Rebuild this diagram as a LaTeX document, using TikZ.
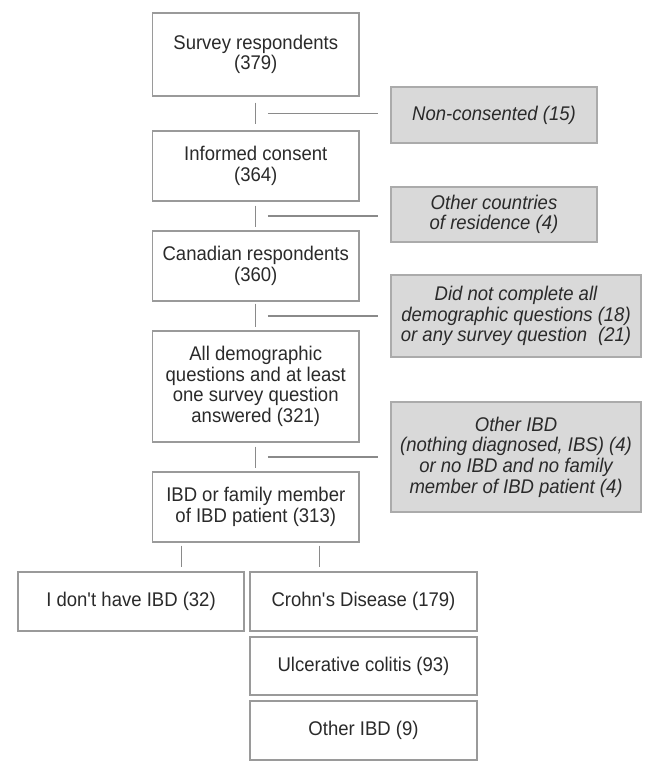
\documentclass[tikz,border=0pt]{standalone}
\usepackage{fontspec}
\setmainfont{Liberation Sans}[FakeStretch=0.935]
\usetikzlibrary{calc}
\definecolor{txt}{HTML}{2A2A2A}
\definecolor{edgec}{HTML}{9A9A9A}
\definecolor{greyfill}{HTML}{D9D9D9}
\definecolor{greyedge}{HTML}{ABABAB}
\definecolor{linec}{HTML}{8A8A8A}
\newcommand{\sq}{{\XeTeXglyph\XeTeXcharglyph"0027\relax}}
\begin{document}
\begin{tikzpicture}[x=1pt,y=-1pt,
  mainbox/.style={draw=edgec, line width=1.4pt, fill=white, text=txt, align=center, inner sep=0pt, font=\fontsize{19.8}{20.7}\selectfont},
  exclbox/.style={draw=greyedge, line width=1.2pt, fill=greyfill, text=txt, align=center, inner sep=0pt, font=\fontsize{19.8}{20.7}\selectfont\itshape},
  link/.style={draw=linec, line width=1.3pt}]
\useasboundingbox[fill=white] (0,0) rectangle (658,773);

% main column
\node[mainbox, minimum width=206.5pt, minimum height=83pt] (b1) at (255.75,54.5) {Survey respondents\\(379)};
\node[mainbox, minimum width=206.5pt, minimum height=70pt] (b2) at (255.75,166) {Informed consent\\(364)};
\node[mainbox, minimum width=206.5pt, minimum height=70pt] (b3) at (255.75,266) {Canadian respondents\\(360)};
\node[mainbox, minimum width=206.5pt, minimum height=111pt] (b4) at (255.75,386.5) {All demographic\\questions and at least\\one survey question\\answered (321)};
\node[mainbox, minimum width=206.5pt, minimum height=70pt] (b5) at (255.75,507) {IBD or family member\\of IBD patient (313)};

% exclusion boxes
\node[exclbox, minimum width=206pt, minimum height=56pt] (g1) at (494,115) {Non-consented (15)};
\node[exclbox, minimum width=206pt, minimum height=55pt] (g2) at (494,214.5) {Other countries\\of residence (4)};
\node[exclbox, minimum width=250pt, minimum height=82pt] (g3) at (516,316) {Did not complete all\\demographic questions (18)\\or any survey question\hspace{0.3em} (21)};
\node[exclbox, minimum width=250pt, minimum height=110pt] (g4) at (516,457) {Other IBD\\(nothing diagnosed, IBS) (4)\\or no IBD and no family\\member of IBD patient (4)};

% leaves
\node[mainbox, minimum width=226pt, minimum height=59pt] (nohave) at (131,601.5) {I don\sq t have IBD (32)};
\node[mainbox, minimum width=227pt, minimum height=59pt] (crohn) at (363.5,601.5) {Crohn\sq s Disease (179)};
\node[mainbox, minimum width=227pt, minimum height=58pt] (uc) at (363.5,666) {Ulcerative colitis (93)};
\node[mainbox, minimum width=227pt, minimum height=59pt] (oibd) at (363.5,730.5) {Other IBD (9)};

% vertical connectors
\draw[link, shorten <=6pt, shorten >=6pt] (b1.south) -- (b2.north);
\draw[link, shorten <=4pt, shorten >=3pt] (b2.south) -- (b3.north);
\draw[link, shorten <=2pt, shorten >=3pt] (b3.south) -- (b4.north);
\draw[link, shorten <=4pt, shorten >=3pt] (b4.south) -- (b5.north);

% horizontal exclusion connectors
\coordinate (m1) at ($(b1.south)!0.5!(b2.north)$);
\coordinate (m2) at ($(b2.south)!0.5!(b3.north)$);
\coordinate (m3) at ($(b3.south)!0.5!(b4.north)$);
\coordinate (m4) at ($(b4.south)!0.5!(b5.north)$);
\draw[link, shorten <=12pt, shorten >=12pt] (m1) -- (m1 -| g1.west);
\draw[link, shorten <=12pt, shorten >=12pt] (m2) -- (m2 -| g2.west);
\draw[link, shorten <=12pt, shorten >=12pt] (m3) -- (m3 -| g3.west);
\draw[link, shorten <=12pt, shorten >=12pt] (m4) -- (m4 -| g4.west);

% branches
\coordinate (bl) at ([xshift=-74pt]b5.south);
\coordinate (br) at ([xshift=64pt]b5.south);
\draw[link, shorten <=3pt, shorten >=4pt] (bl) -- (bl |- nohave.north);
\draw[link, shorten <=3pt, shorten >=4pt] (br) -- (br |- crohn.north);
\end{tikzpicture}
\end{document}
